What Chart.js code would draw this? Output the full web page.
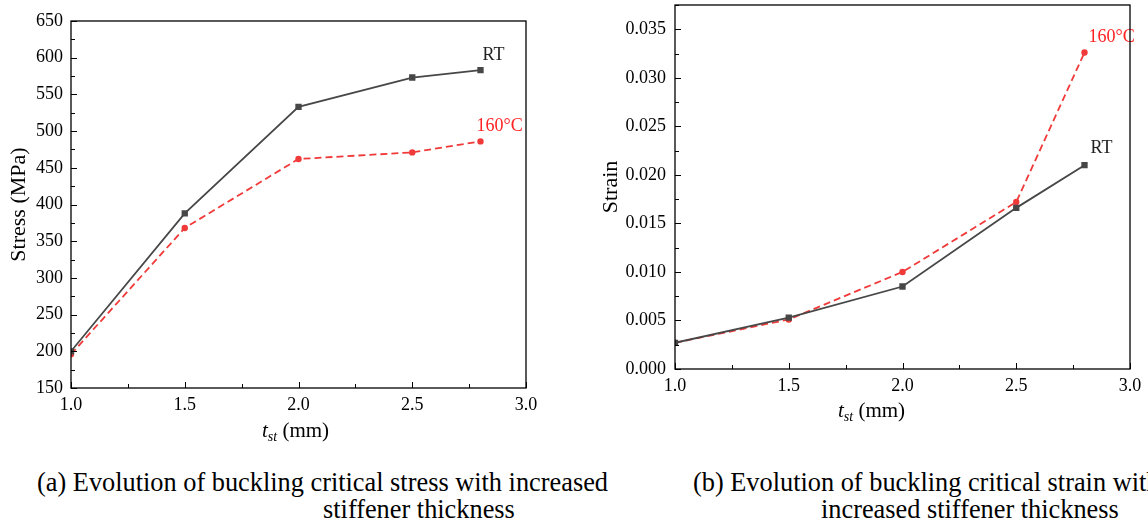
<!DOCTYPE html>
<html>
<head>
<meta charset="utf-8">
<script src="https://cdn.jsdelivr.net/npm/chart.js@4.4.1/dist/chart.umd.min.js"></script>
<style>
  body { margin: 0; width: 1148px; height: 523px; background: #fff; overflow: hidden; position: relative;
         font-family: "Liberation Serif", "Times New Roman", serif; color: #000; }
  canvas { position: absolute; top: 0; }
  #chart-a { left: 0; }
  #chart-b { left: 580px; }
  .xtitle { position: absolute; font-size: 21px; white-space: nowrap; line-height: 1; }
  .xtitle sub { font-size: 14px; vertical-align: -4px; }
  .caption { position: absolute; font-size: 28px; white-space: nowrap; line-height: 1; transform-origin: left top; }
</style>
</head>
<body>
<canvas id="chart-a" width="560" height="450"></canvas>
<canvas id="chart-b" width="568" height="450"></canvas>

<div class="xtitle" style="left:262px; top:420px;"><i>t<sub>st</sub></i> (mm)</div>
<div class="xtitle" style="left:838px; top:400px;"><i>t<sub>st</sub></i> (mm)</div>

<div class="caption" id="cap-a1" style="left:37px; top:468px;">(a) Evolution of buckling critical stress with increased</div>
<div class="caption" id="cap-a2" style="left:323px; top:495px;">stiffener thickness</div>
<div class="caption" id="cap-b1" style="left:693px; top:468px;">(b) Evolution of buckling critical strain with</div>
<div class="caption" id="cap-b2" style="left:821px; top:495px;">increased stiffener thickness</div>

<script>
// stiffener thickness (mm)
const thickness = [1.0, 1.5, 2.0, 2.5, 2.8];

// (a) buckling critical stress (MPa)
const stressRT = [200, 388, 533, 573, 583];
const stress160 = [196, 368, 462, 471, 486];

// (b) buckling critical strain
const strainRT = [0.0027, 0.0053, 0.0085, 0.0166, 0.0210];
const strain160 = [0.0027, 0.0051, 0.0100, 0.0172, 0.0326];

const seriesNames = ['RT', '160°C'];

const FONT = '"Liberation Serif", "Times New Roman", serif';
const GRAY = '#474747';
const RED = '#f03a3a';

const toPoints = (ys) => thickness.map((x, i) => ({ x: x, y: ys[i] }));

// frame + inward ticks (major longer, minor shorter) + end labels
const framePlugin = {
    id: 'framePlugin',
    afterDraw(chart) {
        const ctx = chart.ctx;
        const a = chart.chartArea;
        ctx.save();
        ctx.strokeStyle = '#000';
        ctx.lineWidth = 1.3;
        ctx.strokeRect(a.left, a.top, a.right - a.left, a.bottom - a.top);
        ctx.lineWidth = 1;
        const xs = chart.scales.x;
        xs.ticks.forEach(t => {
            const px = Math.round(xs.getPixelForValue(t.value)) + 0.5;
            const len = t.label !== '' ? 6 : 4;
            ctx.beginPath();
            ctx.moveTo(px, a.bottom);
            ctx.lineTo(px, a.bottom - len);
            ctx.stroke();
        });
        const ys = chart.scales.y;
        ys.ticks.forEach(t => {
            const py = Math.round(ys.getPixelForValue(t.value)) + 0.5;
            const len = t.label !== '' ? 6 : 4;
            ctx.beginPath();
            ctx.moveTo(a.left, py);
            ctx.lineTo(a.left + len, py);
            ctx.stroke();
        });
        ctx.restore();
    },
    afterDatasetsDraw(chart) {
        const ctx = chart.ctx;
        ctx.save();
        ctx.font = '18px ' + FONT;
        ctx.textBaseline = 'middle';
        chart.data.datasets.forEach((ds, i) => {
            if (!ds.endLabel) return;
            const meta = chart.getDatasetMeta(i);
            const last = meta.data[meta.data.length - 1];
            ctx.fillStyle = ds.endLabel.color;
            ctx.fillText(ds.label, last.x + ds.endLabel.dx, last.y + ds.endLabel.dy);
        });
        ctx.restore();
    }
};

function makeChart(canvasId, rtData, hotData, opts) {
    return new Chart(document.getElementById(canvasId), {
        type: 'line',
        data: {
            datasets: [
                {
                    label: seriesNames[0], data: toPoints(rtData),
                    borderColor: GRAY, backgroundColor: GRAY, borderWidth: 1.8,
                    pointStyle: 'rect', pointRadius: 3.2, pointHoverRadius: 3.2,
                    endLabel: { color: '#222', dx: opts.rtLabel[0], dy: opts.rtLabel[1] }
                },
                {
                    label: seriesNames[1], data: toPoints(hotData),
                    borderColor: RED, backgroundColor: RED, borderWidth: 1.8, borderDash: [7, 4],
                    pointStyle: 'circle', pointRadius: 2.3, pointHoverRadius: 2.3,
                    endLabel: { color: '#ff2020', dx: opts.hotLabel[0], dy: opts.hotLabel[1] }
                }
            ]
        },
        options: {
            responsive: false,
            animation: false,
            devicePixelRatio: 1,
            layout: { padding: { top: opts.padTop, right: opts.padRight, left: 0, bottom: 0 } },
            plugins: { legend: { display: false }, tooltip: { enabled: false } },
            scales: {
                x: {
                    type: 'linear', min: 1, max: 3,
                    grid: { display: false, drawTicks: false },
                    border: { display: false },
                    afterFit: (s) => { s.height = opts.xHeight; s.paddingLeft = 0; s.paddingRight = 0; },
                    ticks: {
                        stepSize: 0.25, autoSkip: false, maxRotation: 0, padding: 6,
                        color: '#000', font: { family: FONT, size: 18 },
                        callback: (v) => Math.abs(v * 2 - Math.round(v * 2)) < 1e-6 ? v.toFixed(1) : ''
                    }
                },
                y: {
                    type: 'linear', min: opts.yMin, max: opts.yMax,
                    grid: { display: false, drawTicks: false },
                    border: { display: false },
                    afterFit: (s) => { s.width = opts.yWidth; s.paddingTop = 0; s.paddingBottom = 0; },
                    title: {
                        display: true, text: opts.yTitle, color: '#000',
                        font: { family: FONT, size: 22 }, padding: { top: opts.titlePad, bottom: 0 }
                    },
                    ticks: {
                        stepSize: opts.yStep / 2, autoSkip: false, padding: opts.yTickPad,
                        color: '#000', font: { family: FONT, size: 18 },
                        callback: (v) => {
                            const k = Math.round(v / (opts.yStep / 2));
                            return k % 2 === 0 ? v.toFixed(opts.decimals) : '';
                        }
                    }
                }
            }
        },
        plugins: [framePlugin]
    });
}

makeChart('chart-a', stressRT, stress160, {
    yMin: 150, yMax: 650, yStep: 50, decimals: 0, yTitle: 'Stress (MPa)',
    padTop: 21, padRight: 34, xHeight: 62, yWidth: 71, titlePad: 6, yTickPad: 8,
    rtLabel: [2, -15], hotLabel: [-4, -15]
});

makeChart('chart-b', strainRT, strain160, {
    yMin: 0, yMax: 0.0375, yStep: 0.005, decimals: 3, yTitle: 'Strain',
    padTop: 3, padRight: 18, xHeight: 81, yWidth: 95, titlePad: 18, yTickPad: 9,
    rtLabel: [6, -17], hotLabel: [4, -15]
});

// captions: squeeze to match the narrow serif of the figure
const capA1 = document.getElementById('cap-a1');
const squeeze = 571 / capA1.getBoundingClientRect().width;
document.querySelectorAll('.caption').forEach(el => {
    el.style.transform = 'scaleX(' + squeeze + ')';
});
</script>
</body>
</html>
